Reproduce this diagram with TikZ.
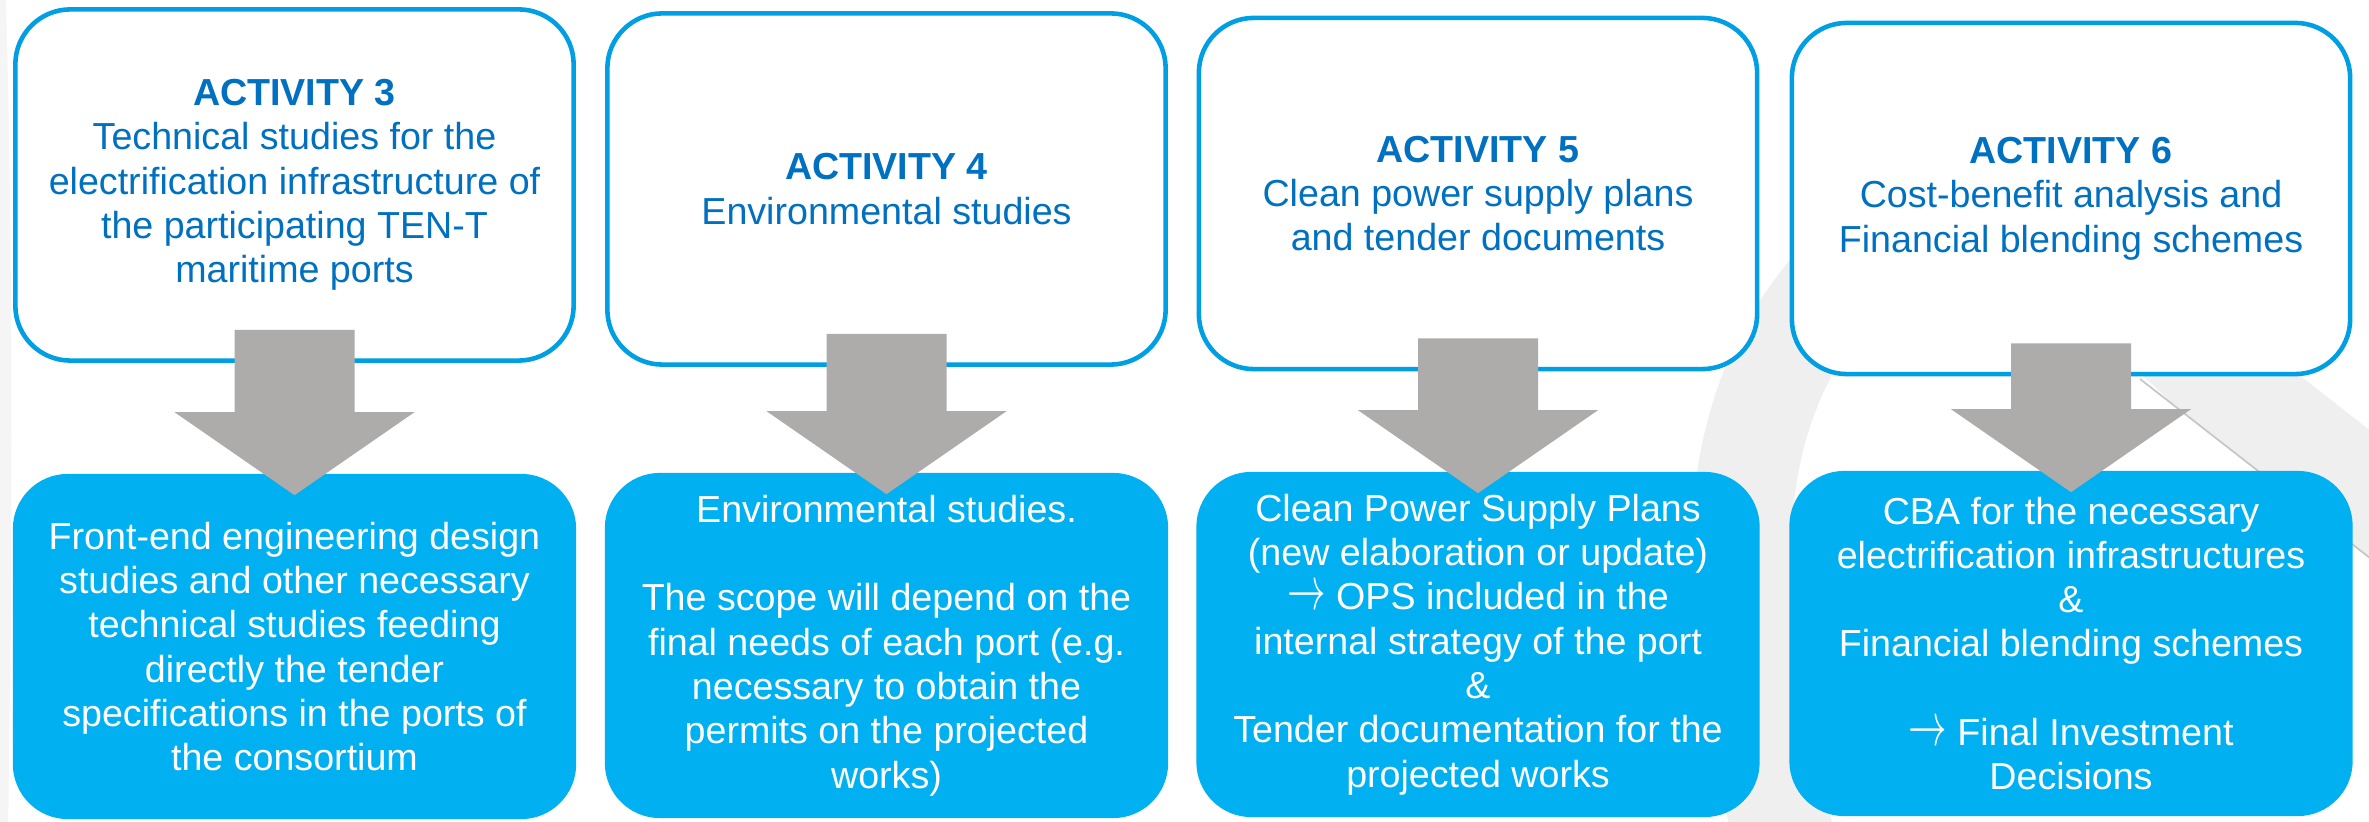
\documentclass[tikz,border=0pt]{standalone}
\usepackage{graphicx}
\usepackage{fontspec}
\setmainfont{Liberation Sans}
\usetikzlibrary{calc}
\definecolor{boxblue}{HTML}{009FE3}
\definecolor{fillblue}{HTML}{00B0F0}
\definecolor{textblue}{HTML}{0070C0}
\definecolor{arrowgrey}{HTML}{AEABAB}
\definecolor{ringgrey}{HTML}{EFEFEF}
\tikzset{
	topbox/.style={draw=boxblue, line width=1.3pt, fill=white, rounded corners=0.55cm, minimum width=5.58cm, minimum height=3.51cm, inner sep=0pt, align=center, text=textblue, font=\fontsize{10.7}{12.6}\selectfont},
	bottombox/.style={fill=fillblue, rounded corners=0.55cm, minimum width=5.63cm, minimum height=3.45cm, inner sep=0pt, align=center, text=white, font=\fontsize{10.7}{12.6}\selectfont}
}
\def\blockarrow(#1)(#2){\fill[arrowgrey] ($(#1.south)+(-60,-33)$) -- ($(#1.south)+(60,-33)$) -- ($(#2.north)+(60,-61)$) -- ($(#2.north)+(120,-61)$) -- ($(#2.north)+(0,22)$) -- ($(#2.north)+(-120,-61)$) -- ($(#2.north)+(-60,-61)$) -- cycle;}
\def\thinarrow{\scalebox{1}[1.6]{$\rightarrow$}}

\begin{document}
\begin{tikzpicture}[x=0.01cm, y=-0.01cm]
			%%%%% START %%%%%
			\useasboundingbox (0,0) rectangle (2369,822);
			
			% faint background swoosh
			\fill[ringgrey!60] (0,0) -- (6,0) .. controls (14,300) and (12,600) .. (8,822) -- (0,822) -- cycle;
			\draw[ringgrey, line width=1cm] (1785,840) .. controls (1720,600) and (1720,420) .. (1830,290) .. controls (1930,190) and (2100,260) .. (2200,361) -- (2470,572);
			\draw[gray!45, line width=0.5pt] (2140,379) -- (2420,597);
			
			\node[topbox] (act3) at (294.5,185) {\textbf{ACTIVITY 3}\\Technical studies for the\\electrification infrastructure of\\the participating TEN-T\\maritime ports};
			\node[topbox] (act4) at (886.5,189) {\textbf{ACTIVITY 4}\\Environmental studies};
			\node[topbox] (act5) at (1478,193.5) {\textbf{ACTIVITY 5}\\Clean power supply plans\\and tender documents};
			\node[topbox] (act6) at (2071,198.5) {\textbf{ACTIVITY 6}\\Cost-benefit analysis and\\Financial blending schemes};
			
			\node[bottombox] (out3) at (294.5,646.5) {Front-end engineering design\\studies and other necessary\\technical studies feeding\\directly the tender\\specifications in the ports of\\the consortium};
			\node[bottombox] (out4) at (886.5,645.5) {Environmental studies.\\[12.6pt]The scope will depend on the\\final needs of each port (e.g.\\necessary to obtain the\\permits on the projected\\works)};
			\node[bottombox] (out5) at (1478,644.5) {Clean Power Supply Plans\\(new elaboration or update)\\\thinarrow{} OPS included in the\\internal strategy of the port\\\&\\Tender documentation for the\\projected works};
			\node[bottombox] (out6) at (2071,643.5) {CBA for the necessary\\electrification infrastructures\\\&\\Financial blending schemes\\[12.6pt]\thinarrow{} Final Investment\\Decisions};
			
			\blockarrow(act3)(out3)
			\blockarrow(act4)(out4)
			\blockarrow(act5)(out5)
			\blockarrow(act6)(out6)
			%%%%% END %%%%%
		\end{tikzpicture}
\end{document}
